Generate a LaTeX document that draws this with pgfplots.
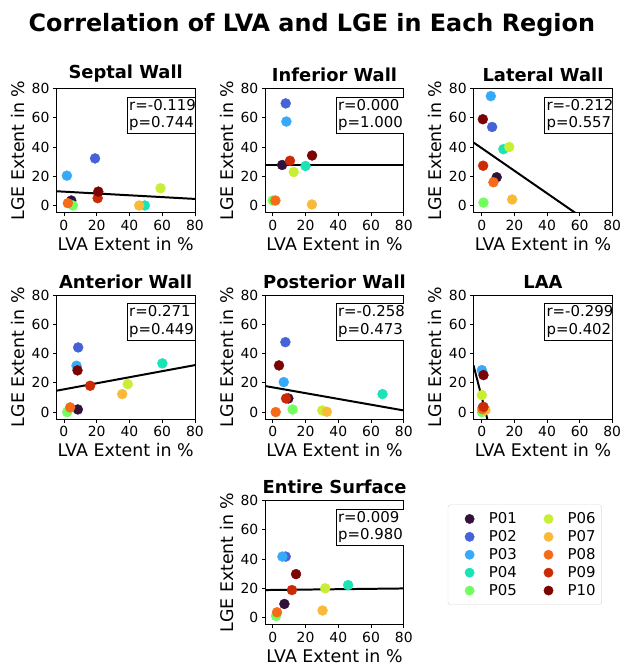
\documentclass[border=0pt]{standalone}
\usepackage{fontspec}
\setmainfont{DejaVu Sans}
\usepackage{pgfplots}
\usepackage{pgfplotstable}
\pgfplotsset{compat=1.18}

\definecolor{c01}{RGB}{48,18,59}
\definecolor{c02}{RGB}{70,98,216}
\definecolor{c03}{RGB}{54,170,249}
\definecolor{c04}{RGB}{26,228,182}
\definecolor{c05}{RGB}{114,254,94}
\definecolor{c06}{RGB}{200,239,52}
\definecolor{c07}{RGB}{250,186,57}
\definecolor{c08}{RGB}{246,107,25}
\definecolor{c09}{RGB}{203,42,4}
\definecolor{c10}{RGB}{122,4,3}

% LVA extent (x) vs LGE extent (y), in %
\pgfplotstableread{
id  x    y
P01 4.5  3.4
P02 19.0 32.2
P03 1.8  20.4
P04 49.4 0.0
P05 5.5  0.0
P06 59.0 11.8
P07 46.0 0.0
P08 2.4  1.6
P09 20.6 5.0
P10 21.0 9.5
}\septal
\pgfplotstableread{
id  x    y
P01 5.7  27.7
P02 7.9  69.8
P03 8.3  57.4
P04 20.0 27.0
P05 0.0  3.4
P06 12.8 22.9
P07 23.9 0.7
P08 1.6  3.4
P09 10.5 30.6
P10 24.0 34.2
}\inferior
\pgfplotstableread{
id  x    y
P01 9.1  19.3
P02 6.3  53.7
P03 5.5  74.8
P04 13.2 38.5
P05 1.0  2.0
P06 16.8 40.0
P07 18.6 4.1
P08 7.1  15.9
P09 0.8  27.2
P10 0.6  59.0
}\lateral
\pgfplotstableread{
id  x    y
P01 8.5  1.8
P02 8.7  44.2
P03 7.7  31.7
P04 60.1 33.3
P05 2.0  0.0
P06 39.0 19.1
P07 35.6 12.3
P08 3.8  3.2
P09 16.0 18.0
P10 8.3  28.5
}\anterior
\pgfplotstableread{
id  x    y
P01 9.5  9.3
P02 7.7  47.8
P03 6.7  20.5
P04 67.0 12.3
P05 12.1 1.8
P06 30.2 1.1
P07 33.0 0.2
P08 1.8  0.0
P09 8.1  9.3
P10 3.8  31.9
}\posterior
\pgfplotstableread{
id  x    y
P01 1.0  2.0
P02 0.5  3.0
P03 0.0  28.7
P04 0.5  0.5
P05 0.0  0.0
P06 0.0  11.6
P07 2.2  1.4
P08 0.4  2.0
P09 1.0  3.6
P10 1.0  25.3
}\laa
\pgfplotstableread{
id  x    y
P01 7.1  9.3
P02 7.9  41.7
P03 5.9  41.7
P04 46.0 22.2
P05 2.0  1.1
P06 32.0 20.0
P07 30.4 4.8
P08 2.6  3.6
P09 11.7 18.8
P10 14.2 29.7
}\entire

\pgfplotsset{
  panel/.style={
    scale only axis, width=139.3pt, height=125pt,
    anchor=north west,
    xmin=-4.6, xmax=80, ymin=-5, ymax=80,
    xtick={0,20,40,60,80}, ytick={0,20,40,60,80},
    xtick pos=left, ytick pos=left,
    tick align=outside, major tick length=3.5pt,
    tick style={black, line width=0.8pt},
    axis line style={line width=0.8pt},
    /pgf/number format/assume math mode=true,
    tick label style={font=\fontsize{14}{14}\selectfont},
    label style={font=\fontsize{17.5}{17.5}\selectfont},
    title style={font=\bfseries\fontsize{18}{18}\selectfont, yshift=-3pt},
    xlabel={LVA Extent in \%}, ylabel={LGE Extent in \%},
  },
  pts/.style={
    scatter, only marks, mark=*, mark size=5pt,
    scatter src=explicit symbolic,
    scatter/classes={
      P01={c01}, P02={c02}, P03={c03}, P04={c04}, P05={c05},
      P06={c06}, P07={c07}, P08={c08}, P09={c09}, P10={c10}},
  },
  fit/.style={black, line width=2pt, forget plot},
  key/.style={only marks, mark=*, mark size=4.7pt, #1},
}
\newcommand{\stats}[2]{\node[draw=black, fill=white, anchor=north west, align=left,
  inner xsep=2pt, inner ysep=2.5pt, font=\fontsize{15}{17.5}\selectfont] at (rel axis cs:0.51,0.935) {r=#1\\p=#2};}

\begin{document}
\begin{tikzpicture}
\path (0,0) rectangle (627pt,666pt);
\node[font=\bfseries\fontsize{24}{24}\selectfont] at (313.5pt,641pt) {Correlation of LVA and LGE in Each Region};

\begin{axis}[panel, at={(56.7pt,577pt)}, title={Septal Wall}]
  \addplot[pts, forget plot] table[x=x, y=y, meta=id] {\septal};
  \addplot[fit] coordinates {(-4.6,9.75) (80,4.5)};
  \stats{-0.119}{0.744}
\end{axis}

\begin{axis}[panel, at={(266.7pt,577pt)}, title={Inferior Wall}]
  \addplot[pts, forget plot] table[x=x, y=y, meta=id] {\inferior};
  \addplot[fit] coordinates {(-4.6,27.7) (80,27.7)};
  \stats{0.000}{1.000}
\end{axis}

\begin{axis}[panel, at={(476.3pt,577pt)}, xmin=-5, title={Lateral Wall}]
  \addplot[pts, forget plot] table[x=x, y=y, meta=id] {\lateral};
  \addplot[fit] coordinates {(-5,43) (80,-22.5)};
  \stats{-0.212}{0.557}
\end{axis}

\begin{axis}[panel, at={(56.7pt,369.3pt)}, title={Anterior Wall}]
  \addplot[pts, forget plot] table[x=x, y=y, meta=id] {\anterior};
  \addplot[fit] coordinates {(-4.6,14.6) (80,32.1)};
  \stats{0.271}{0.449}
\end{axis}

\begin{axis}[panel, at={(266.7pt,369.3pt)}, title={Posterior Wall}]
  \addplot[pts, forget plot] table[x=x, y=y, meta=id] {\posterior};
  \addplot[fit] coordinates {(-4.6,17.8) (80,1.1)};
  \stats{-0.258}{0.473}
\end{axis}

\begin{axis}[panel, at={(476.3pt,369.3pt)}, xmin=-5, title={LAA}]
  \addplot[pts, forget plot] table[x=x, y=y, meta=id] {\laa};
  \addplot[fit] coordinates {(-5.1,31.9) (3.4,-5)};
  \stats{-0.299}{0.402}
\end{axis}

\begin{axis}[panel, at={(266.7pt,162.7pt)}, title={Entire Surface},
  legend columns=2, legend cell align=left,
  legend style={at={(axis description cs:1.318,0.968)}, anchor=north west,
    draw=black!15, rounded corners=2pt, font=\fontsize{15}{15}\selectfont,
    inner xsep=5.9pt, inner ysep=5.3pt, row sep=0pt, column sep=0pt,
    nodes={inner sep=0pt},
    /tikz/every even column/.append style={column sep=16.1pt}},
  legend image code/.code={\path[draw=none, fill=none] (-15.8pt,-9pt) rectangle (19.3pt,9pt);
    \draw[#1] plot coordinates {(0pt,0pt)};},
]
  \addplot[pts, forget plot] table[x=x, y=y, meta=id] {\entire};
  \addplot[fit] coordinates {(-4.6,18.8) (80,19.9)};
  \stats{0.009}{0.980}
  \addlegendimage{key=c01}\addlegendentry{P01}
  \addlegendimage{key=c06}\addlegendentry{P06}
  \addlegendimage{key=c02}\addlegendentry{P02}
  \addlegendimage{key=c07}\addlegendentry{P07}
  \addlegendimage{key=c03}\addlegendentry{P03}
  \addlegendimage{key=c08}\addlegendentry{P08}
  \addlegendimage{key=c04}\addlegendentry{P04}
  \addlegendimage{key=c09}\addlegendentry{P09}
  \addlegendimage{key=c05}\addlegendentry{P05}
  \addlegendimage{key=c10}\addlegendentry{P10}
\end{axis}
\end{tikzpicture}
\end{document}
